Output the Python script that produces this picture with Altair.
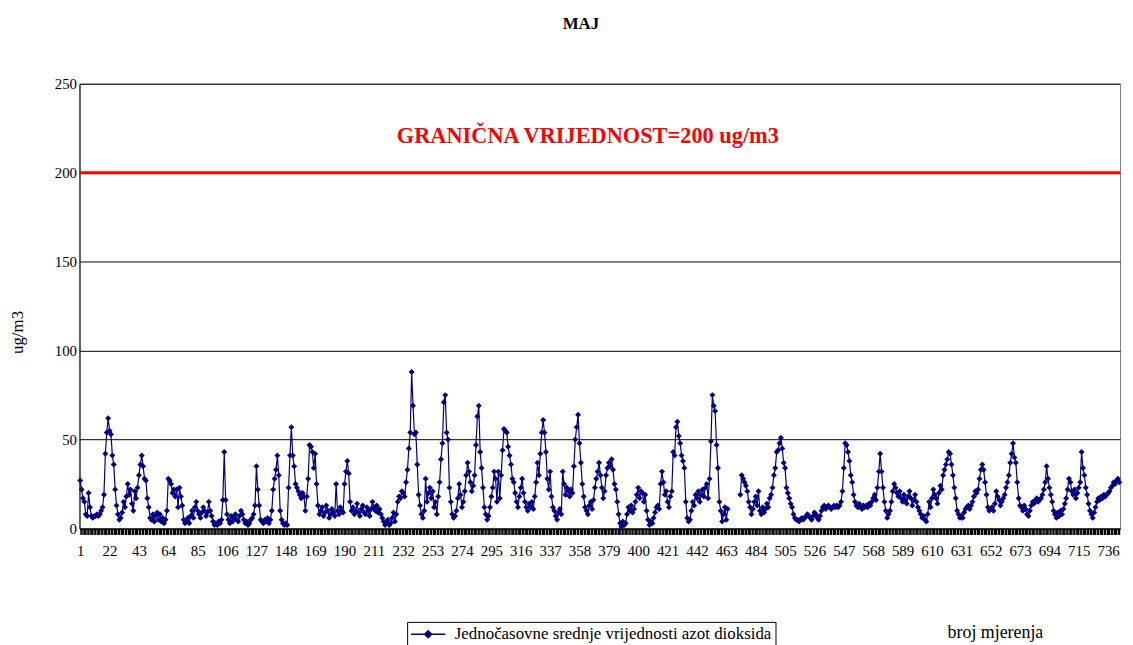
import altair as alt
import pandas as pd

# ---- data (hourly NO2 means, May; one value per measurement) ----
block_01 = [27, 22, 17, 15, 8, 7, 20, 12, 7, 6, 7, 7, 8, 7, 8, 10, 12, 19, 42, 54, 62]
block_02 = [55, 53, 41, 36, 22, 13, 8, 5, 6, 9, 15, 12, 18, 25, 19, 22, 14, 10, 21, 17, 23]
block_03 = [30, 36, 41, 35, 28, 27, 17, 12, 6, 5, 8, 4, 7, 9, 5, 8, 4, 6, 3, 5, 10]
block_04 = [28, 27, 25, 20, 22, 18, 22, 12, 23, 18, 13, 5, 3, 4, 6, 3, 7, 10, 6, 12, 15]
block_05 = [10, 8, 6, 9, 12, 10, 7, 9, 15, 10, 7, 4, 2, 3, 2, 4, 3, 5, 16, 43, 16]
block_06 = [8, 5, 3, 7, 4, 6, 8, 5, 4, 7, 10, 8, 5, 3, 4, 2, 3, 5, 6, 8, 13]
block_07 = [35, 22, 13, 5, 4, 3, 5, 4, 6, 3, 5, 10, 22, 28, 33, 41, 30, 10, 5, 3, 2]
block_08 = [3, 2, 23, 41, 57, 41, 35, 25, 23, 21, 19, 17, 20, 18, 10, 18, 28, 47, 46, 43, 34]
block_09 = [42, 25, 13, 8, 10, 12, 7, 9, 13, 10, 6, 8, 11, 9, 7, 25, 10, 8, 12, 10, 9]
block_10 = [25, 32, 38, 31, 15, 10, 12, 8, 10, 14, 9, 7, 11, 13, 9, 8, 12, 10, 7, 11, 15]
block_11 = [12, 10, 13, 9, 11, 8, 6, 4, 2, 3, 5, 2, 3, 6, 9, 4, 8, 15, 18, 17, 21]
block_12 = [20, 18, 26, 33, 45, 54, 88, 69, 53, 54, 36, 19, 13, 8, 6, 10, 28, 15, 20, 23, 17]
block_13 = [21, 12, 15, 8, 18, 26, 39, 48, 71, 75, 54, 50, 23, 15, 8, 6, 7, 10, 17, 25, 19]
block_14 = [12, 15, 21, 30, 37, 32, 26, 21, 24, 30, 47, 63, 69, 43, 34, 23, 12, 8, 5, 7, 12]
block_15 = [18, 23, 32, 28, 15, 32, 17, 30, 44, 56, 55, 54, 46, 41, 36, 28, 26, 20, 15, 12, 18]
block_16 = [23, 28, 20, 15, 12, 10, 14, 12, 15, 11, 18, 26, 37, 30, 42, 54, 61, 54, 43, 28, 22]
block_17 = [32, 18, 12, 10, 7, 5, 9, 11, 8, 32, 25, 19, 23, 21, 18, 22, 20, 35, 50, 57, 64]
block_18 = [48, 37, 25, 18, 12, 10, 8, 13, 15, 11, 16, 23, 28, 32, 37, 30, 23, 17, 21, 30, 34]
block_19 = [37, 35, 39, 33, 25, 22, 15, 8, 3, 1, 4, 2, 3, 8, 12, 10, 13, 9, 11, 15, 19]
block_20 = [23, 17, 21, 20, 15, 19, 10, 5, 2, 4, 3, 6, 9, 12, 13, 11, 25, 32, 26, 19, 21]
block_21 = [15, 12, 18, 21, 43, 41, 57, 60, 52, 48, 41, 38, 34, 15, 6, 4, 5, 10, 15, 13, 19]
block_22 = [17, 21, 15, 19, 22, 18, 23, 25, 17, 28, 49, 75, 69, 66, 47, 34, 15, 10, 4, 8, 12]
block_23 = [5, 11, None, None, None, None, None, None, None, None, 19, 30, 28, 26, 24, 21, 15, 12, 8, 11, 15]
block_24 = [18, 13, 21, 10, 8, 12, 9, 11, 14, 12, 17, 19, 23, 30, 34, 43, 44, 48, 51, 45, 37]
block_25 = [34, 23, 20, 17, 14, 12, 8, 6, 5, 5, 4, 5, 6, 5, 6, 7, 8, 7, 6, 5, 7]
block_26 = [9, 8, 6, 5, 7, 10, 12, 13, 11, 12, 13, 12, 11, 12, 13, 12, 13, 12, 13, 15, 21]
block_27 = [34, 48, 47, 43, 38, 30, 26, 19, 15, 13, 12, 14, 12, 11, 13, 12, 13, 12, 14, 13, 15]
block_28 = [17, 19, 16, 23, 32, 42, 32, 23, 15, 10, 6, 8, 10, 15, 21, 25, 23, 20, 18, 21, 17]
block_29 = [15, 19, 16, 14, 18, 21, 17, 13, 16, 19, 15, 12, 10, 8, 6, 7, 5, 4, 8, 15, 12]
block_30 = [17, 22, 19, 17, 14, 20, 24, 22, 30, 33, 36, 39, 43, 42, 36, 30, 23, 17, 10, 8, 6]
block_31 = [7, 6, 9, 11, 12, 13, 11, 13, 15, 18, 21, 20, 22, 28, 33, 36, 33, 26, 19, 12, 10]
block_32 = [11, 12, 10, 14, 21, 18, 16, 13, 15, 17, 19, 23, 26, 30, 37, 42, 48, 40, 37, 26, 17]
block_33 = [13, 12, 10, 13, 11, 8, 7, 10, 13, 15, 14, 16, 17, 15, 16, 17, 19, 22, 26, 35, 28]
block_34 = [23, 19, 15, 10, 8, 6, 9, 7, 10, 8, 11, 14, 17, 22, 28, 26, 21, 19, 22, 17, 20]
block_35 = [23, 26, 43, 34, 30, 23, 19, 14, 10, 8, 6, 9, 12, 15, 17, 16, 18, 17, 19, 18, 19]
block_36 = [20, 21, 23, 24, 26, 25, 27, 28, 26]

values = (block_01 + block_02 + block_03 + block_04 + block_05 + block_06 + block_07 +
          block_08 + block_09 + block_10 + block_11 + block_12 + block_13 + block_14 +
          block_15 + block_16 + block_17 + block_18 + block_19 + block_20 + block_21 +
          block_22 + block_23 + block_24 + block_25 + block_26 + block_27 + block_28 +
          block_29 + block_30 + block_31 + block_32 + block_33 + block_34 + block_35 +
          block_36)

series_name = "Jednočasovne srednje vrijednosti azot dioksida"
chart_title = "MAJ"
limit_value = 200
limit_label = "GRANIČNA VRIJEDNOST=200 ug/m3"
y_ticks = [0, 50, 100, 150, 200, 250]
x_label_step = 21

n = len(values)
idx = list(range(1, n + 1))
seg = []
gaps = 0
for v in values:
    if v is None:
        gaps += 1
    seg.append(gaps)
df = pd.DataFrame({"idx": idx, "value": values, "segment": seg, "series": series_name})
df = df[df["value"].notna()]

SERIF = "Liberation Serif"
NAVY = "#000080"

x_enc = alt.X(
    "idx:Q",
    scale=alt.Scale(domain=[0.5, n + 0.5], nice=False, zero=False),
    axis=alt.Axis(
        values=idx,
        labelExpr=f"(datum.value - 1) % {x_label_step} == 0 ? datum.label : ''",
        labelOverlap=False, labelFlush=False, labelBound=False,
        ticks=True, tickSize=6, tickColor="black", tickWidth=1.4, domainColor="black",
        grid=False, labelFont=SERIF, labelFontSize=15, labelColor="black",
        labelPadding=9,
        title="broj mjerenja", titleX=922, titleY=105, titleFont=SERIF,
        titleFontSize=18, titleFontWeight="normal", titleColor="black",
        titleBaseline="middle", titleAlign="center",
    ),
)
y_enc = alt.Y(
    "value:Q",
    scale=alt.Scale(domain=[0, 250], nice=False),
    axis=alt.Axis(
        values=y_ticks, grid=True, gridColor="black", gridOpacity=1,
        ticks=False, domainColor="black",
        labelFont=SERIF, labelFontSize=15, labelColor="black", labelPadding=3,
        title="ug/m3", titleFont=SERIF, titleFontSize=17, titleFontWeight="normal",
        titleColor="black", titleX=-62, titleY=250, titleAngle=-90,
        titleAlign="center", titleBaseline="middle",
    ),
)
color_enc = alt.Color(
    "series:N",
    scale=alt.Scale(range=[NAVY]),
    legend=alt.Legend(
        title=None, orient="none", legendX=330, legendY=542,
        strokeColor="black", fillColor="white", padding=3,
        symbolType="M-1,0L3,0M1,-0.4L1.4,0L1,0.4L0.6,0Z",
        symbolSize=300, symbolStrokeWidth=1.5,
        symbolFillColor=NAVY, symbolStrokeColor=NAVY,
        labelFont=SERIF, labelFontSize=17, labelColor="black", labelLimit=600,
        labelOffset=26,
    ),
)

base = alt.Chart(df)
line = base.mark_line(strokeWidth=1.2).encode(x=x_enc, y=y_enc, detail="segment:N", color=color_enc)
points = base.mark_point(shape="diamond", filled=True, size=36, opacity=1).encode(
    x=x_enc, y=y_enc, color=color_enc
)

limit_rule = alt.Chart(pd.DataFrame({"limit": [limit_value]})).mark_rule(
    color="#FF0000", strokeWidth=3
).encode(y=alt.datum(limit_value))

limit_text = alt.Chart(pd.DataFrame({"t": [limit_label]})).mark_text(
    font=SERIF, fontSize=22.5, fontWeight="bold", color="#FF0000",
    align="center", baseline="middle",
).encode(x=alt.value(512), y=alt.value(53), text="t:N")

title_text = alt.Chart(pd.DataFrame({"t": [chart_title]})).mark_text(
    font=SERIF, fontSize=17, fontWeight="bold", color="black",
    align="center", baseline="middle",
).encode(x=alt.value(505), y=alt.value(-60), text="t:N")

chart = alt.layer(limit_rule, line, points, limit_text, title_text).properties(
    width=1048, height=448,
    autosize=alt.AutoSizeParams(type="none"),
    padding={"left": 72, "top": 74, "right": 5, "bottom": 115},
    background="white",
).configure_view(stroke="#808080", strokeWidth=1)

chart.save("out.html", embed_options={"renderer": "svg", "actions": False})
